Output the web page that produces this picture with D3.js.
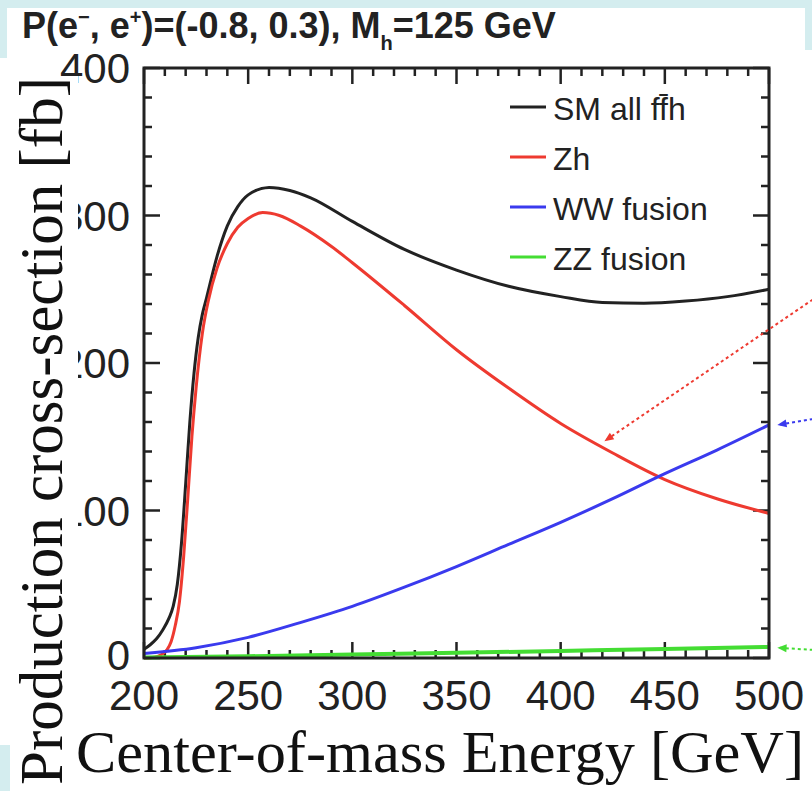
<!DOCTYPE html>
<html>
<head>
<meta charset="utf-8">
<script src="https://cdn.jsdelivr.net/npm/d3@7"></script>
<style>
  body { margin: 0; background: #fff; }
  svg { display: block; }
</style>
</head>
<body>
<script>
// cross-sections, in fb
var smE  = [200, 203, 206, 209, 212, 214, 216, 218, 220, 222, 224, 226, 228, 230, 235, 240, 245, 250, 260, 270, 280, 300, 325, 350, 375, 400, 420, 440, 460, 480, 500];
var smXs = [6, 9, 13, 19, 27, 35, 50, 78, 118, 160, 193, 217, 233, 244, 272, 293, 306, 314, 319, 317, 312, 296, 277, 263, 252, 245, 241, 240.5, 242, 245, 250];

var zhE  = [200, 205, 208, 211, 213, 215, 217, 219, 221, 223, 225, 228, 231, 235, 240, 245, 250, 257, 265, 275, 290, 300, 325, 350, 375, 400, 425, 450, 475, 500];
var zhXs = [0, 0.5, 2, 5.5, 11, 22, 38, 68, 108, 150, 183, 220, 243, 264, 281, 292, 298, 302, 300, 293, 279, 268, 239, 209, 183, 159, 139, 121, 108, 98];

var wwE  = [200, 225, 250, 275, 300, 325, 350, 375, 400, 425, 450, 475, 500];
var wwXs = [3, 7, 14, 24, 35, 48, 62, 77, 92, 108, 125, 141, 158];

var zzE  = [200, 250, 300, 350, 400, 450, 500];
var zzXs = [0.3, 1.2, 2.3, 3.5, 4.8, 6.1, 7.5];

var seriesNames = ['SM all ff\u0304h', 'Zh', 'WW fusion', 'ZZ fusion'];
var seriesColors = ['#222222', '#ee3a30', '#3a3aee', '#44dd33'];

var xTicks = [200, 250, 300, 350, 400, 450, 500];
var yTicks = [0, 100, 200, 300, 400];

var w = 812, h = 791;
var svg = d3.select('body').append('svg')
    .attr('width', w)
    .attr('height', h);

svg.append('rect').attr('width', w).attr('height', h).attr('fill', '#fff');
// light cyan slide edges
svg.append('rect').attr('x', 0).attr('y', 0).attr('width', w).attr('height', 8).attr('fill', '#d4edef');
svg.append('rect').attr('x', 0).attr('y', 0).attr('width', 7).attr('height', 58).attr('fill', '#d4edef');
svg.append('rect').attr('x', 805).attr('y', 0).attr('width', 7).attr('height', 50).attr('fill', '#d4edef');
svg.append('rect').attr('x', 0).attr('y', 745).attr('width', 10).attr('height', 46).attr('fill', '#d4edef');

var x = d3.scaleLinear().domain([200, 500]).range([144, 769]);
var y = d3.scaleLinear().domain([0, 400]).range([658, 68]);

var minorX = d3.range(200, 501, 10);
var minorY = d3.range(0, 401, 20);

// ticks pointing inward on all four sides
var g = svg.append('g').attr('stroke', '#222').attr('stroke-width', 2.5);
minorX.forEach(function(v) {
    var len = v % 50 === 0 ? 16 : 8;
    g.append('line').attr('x1', x(v)).attr('x2', x(v)).attr('y1', y(0)).attr('y2', y(0) - len);
    g.append('line').attr('x1', x(v)).attr('x2', x(v)).attr('y1', y(400)).attr('y2', y(400) + len);
});
minorY.forEach(function(v) {
    var len = v % 100 === 0 ? 16 : 8;
    g.append('line').attr('x1', x(200)).attr('x2', x(200) + len).attr('y1', y(v)).attr('y2', y(v));
    g.append('line').attr('x1', x(500)).attr('x2', x(500) - len).attr('y1', y(v)).attr('y2', y(v));
});

function draw(es, vals, color, width) {
    var pts = es.map(function(e, i) { return [e, vals[i]]; });
    svg.append('path')
        .datum(pts)
        .attr('fill', 'none')
        .attr('stroke', color)
        .attr('stroke-width', width)
        .attr('d', d3.line()
            .curve(d3.curveMonotoneX)
            .x(function(d) { return x(d[0]); })
            .y(function(d) { return y(d[1]); }));
}
draw(smE, smXs, seriesColors[0], 3);
draw(zhE, zhXs, seriesColors[1], 3);
draw(wwE, wwXs, seriesColors[2], 3);
draw(zzE, zzXs, seriesColors[3], 4);

// frame
svg.append('rect')
    .attr('x', x(200)).attr('y', y(400))
    .attr('width', x(500) - x(200)).attr('height', y(0) - y(400))
    .attr('fill', 'none').attr('stroke', '#222').attr('stroke-width', 3);

// legend
var leg = svg.append('g');
seriesNames.forEach(function(name, i) {
    var ly = 107 + i * 50;
    leg.append('line').attr('x1', 510).attr('x2', 546).attr('y1', ly).attr('y2', ly)
        .attr('stroke', seriesColors[i]).attr('stroke-width', 3);
    leg.append('text').attr('x', 553).attr('y', ly + 13)
        .attr('font-family', 'Liberation Sans, Arial, sans-serif')
        .attr('font-size', 32).attr('fill', '#222')
        .text(name);
});

// tick labels
svg.selectAll('.xl').data(xTicks).enter().append('text')
    .attr('x', function(d) { return x(d); })
    .attr('y', 710)
    .attr('text-anchor', 'middle')
    .attr('font-family', 'Liberation Sans, Arial, sans-serif')
    .attr('font-size', 42).attr('fill', '#222')
    .text(function(d) { return d; });
svg.selectAll('.yl').data(yTicks).enter().append('text')
    .attr('x', 130)
    .attr('y', function(d) { return d === 0 ? y(d) + 12 : y(d) + 15; })
    .attr('text-anchor', 'end')
    .attr('font-family', 'Liberation Sans, Arial, sans-serif')
    .attr('font-size', 42).attr('fill', '#222')
    .text(function(d) { return d; });

// title
var t = svg.append('text').attr('x', 22).attr('y', 38)
    .attr('font-family', 'Liberation Sans, Arial, sans-serif')
    .attr('font-weight', 'bold').attr('font-size', 36).attr('fill', '#222');
t.append('tspan').text('P(e');
t.append('tspan').attr('font-size', 20).attr('dy', -14).text('\u2212');
t.append('tspan').attr('dy', 14).text(', e');
t.append('tspan').attr('font-size', 20).attr('dy', -14).text('+');
t.append('tspan').attr('dy', 14).text(')=(-0.8, 0.3), M');
t.append('tspan').attr('font-size', 20).attr('dy', 12).text('h');
t.append('tspan').attr('dy', -12).text('=125 GeV');

// annotation arrows coming from outside the frame
var arrows = [
    {from: [521, 243], to: [421, 147], color: '#ee3a30'},
    {from: [521, 162], to: [504, 158], color: '#3a3aee'},
    {from: [521, 5.5], to: [504, 7], color: '#44dd33'}
];
arrows.forEach(function(a) {
    var x1 = x(a.from[0]), y1 = y(a.from[1]), x2 = x(a.to[0]), y2 = y(a.to[1]);
    var ang = Math.atan2(y2 - y1, x2 - x1);
    svg.append('line').attr('x1', x1).attr('y1', y1).attr('x2', x2).attr('y2', y2)
        .attr('stroke', a.color).attr('stroke-width', 2).attr('stroke-dasharray', '3,3');
    var s = 10;
    var p = [[x2, y2],
        [x2 - s * Math.cos(ang - 0.4), y2 - s * Math.sin(ang - 0.4)],
        [x2 - s * Math.cos(ang + 0.4), y2 - s * Math.sin(ang + 0.4)]];
    svg.append('path').attr('d', 'M' + p.join('L') + 'Z').attr('fill', a.color);
});

// serif axis labels pasted over the plot
svg.append('rect').attr('x', 0).attr('y', 76).attr('width', 78).attr('height', 669).attr('fill', '#fff');
svg.append('text')
    .attr('transform', 'translate(62,785) rotate(-90)')
    .attr('font-family', 'Liberation Serif, Times New Roman, serif')
    .attr('font-size', 62).attr('fill', '#111')
    .attr('textLength', 708).attr('lengthAdjust', 'spacingAndGlyphs')
    .text('Production cross-section [fb]');
svg.append('text')
    .attr('x', 76).attr('y', 772)
    .attr('font-family', 'Liberation Serif, Times New Roman, serif')
    .attr('font-size', 60).attr('fill', '#111')
    .attr('textLength', 728).attr('lengthAdjust', 'spacingAndGlyphs')
    .text('Center-of-mass Energy [GeV]');
</script>
</body>
</html>
